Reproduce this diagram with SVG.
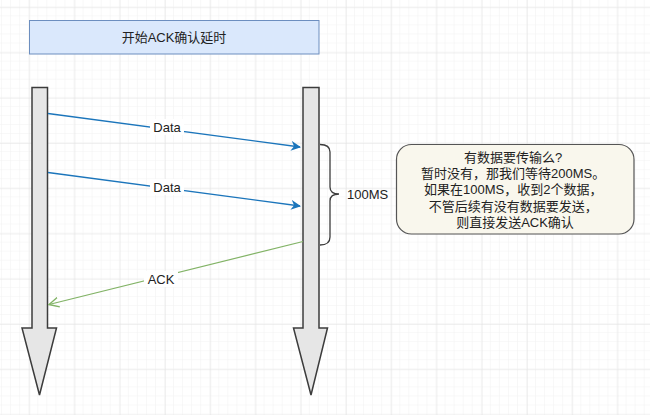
<svg xmlns="http://www.w3.org/2000/svg" width="650" height="415" viewBox="0 0 650 415">
<defs>
<pattern id="minor" x="29.2" y="7.25" width="9.05" height="9.05" patternUnits="userSpaceOnUse">
<path d="M9.05,0 V9.05 M0,9.05 H9.05" fill="none" stroke="#f1f1f1" stroke-width="1"/>
</pattern>
<pattern id="major" x="29.2" y="7.25" width="45.25" height="45.25" patternUnits="userSpaceOnUse">
<path d="M0,0 V45.25 M0,0 H45.25" fill="none" stroke="#e2e2e2" stroke-width="1"/>
</pattern>
<marker id="blk" viewBox="0 0 10 10" refX="9" refY="5" markerWidth="10" markerHeight="10" markerUnits="userSpaceOnUse" orient="auto">
<path d="M0,0 L10,5 L0,10 L3,5 Z" fill="#1b75bb"/>
</marker>
<marker id="opn" viewBox="0 0 10 10" refX="9" refY="5" markerWidth="11" markerHeight="11" markerUnits="userSpaceOnUse" orient="auto">
<path d="M0,0.5 L9,5 L0,9.5" fill="none" stroke="#82b366" stroke-width="1.3"/>
</marker>
<style>
text{font-family:"Liberation Sans","Noto Sans CJK SC",sans-serif;font-size:13px;fill:#222;}
.life{fill:#e6e6e6;stroke:#3c3c3c;stroke-width:1.5;stroke-linejoin:miter;}
.data{stroke:#1b75bb;stroke-width:1.3;fill:none;}
.ack{stroke:#82b366;stroke-width:1.2;fill:none;}
.lbl{fill:#ffffff;}
</style>
</defs>
<rect width="650" height="415" fill="#ffffff"/>
<rect width="650" height="415" fill="url(#minor)"/>
<rect width="650" height="415" fill="url(#major)"/>

<g id="title">
<rect x="29.5" y="20.5" width="289.5" height="33.5" fill="#dae8fc" stroke="#6c8ebf" stroke-width="1"/>
<text x="174" y="41.5" text-anchor="middle">开始ACK确认延时</text>
</g>

<g id="lifeline-left">
<path class="life" d="M32,87.5 H47.5 V328 H56.5 L39.5,395 L22,328 H32 Z"/>
</g>
<g id="lifeline-right">
<path class="life" d="M303,87.5 H319 V328 H327.5 L311,395 L293.5,328 H303 Z"/>
</g>

<g id="connectors">
<line class="data" x1="48" y1="113.5" x2="300" y2="147" marker-end="url(#blk)"/>
<rect class="lbl" x="150" y="119" width="34" height="16"/>
<text x="167" y="131.5" text-anchor="middle">Data</text>
<line class="data" x1="48" y1="172.5" x2="300" y2="206" marker-end="url(#blk)"/>
<rect class="lbl" x="150" y="179" width="34" height="16"/>
<text x="167" y="191.5" text-anchor="middle">Data</text>
<line class="ack" x1="303" y1="241.5" x2="49" y2="304.5" marker-end="url(#opn)"/>
<rect class="lbl" x="144" y="271" width="34" height="16"/>
<text x="161" y="283.5" text-anchor="middle">ACK</text>
</g>

<g id="brace">
<path d="M320,144.5 Q330,144.5 330,152 L330,187 Q330,194 339,194 Q330,194 330,201 L330,237 Q330,245 320,245" fill="none" stroke="#3c3c3c" stroke-width="1.3"/>
<text x="347" y="198.5">100MS</text>
</g>

<g id="note">
<rect x="396.5" y="144.5" width="237.5" height="89.5" rx="15" ry="15" fill="#f9f7ed" stroke="#555" stroke-width="1.2"/>
<text text-anchor="middle">
<tspan x="515" y="161.5">有数据要传输么?</tspan>
<tspan x="515" y="177.5">暂时没有，那我们等待200MS。</tspan>
<tspan x="515" y="194">如果在100MS，收到2个数据，</tspan>
<tspan x="515" y="210.5">不管后续有没有数据要发送，</tspan>
<tspan x="515" y="227">则直接发送ACK确认</tspan>
</text>
</g>
</svg>
